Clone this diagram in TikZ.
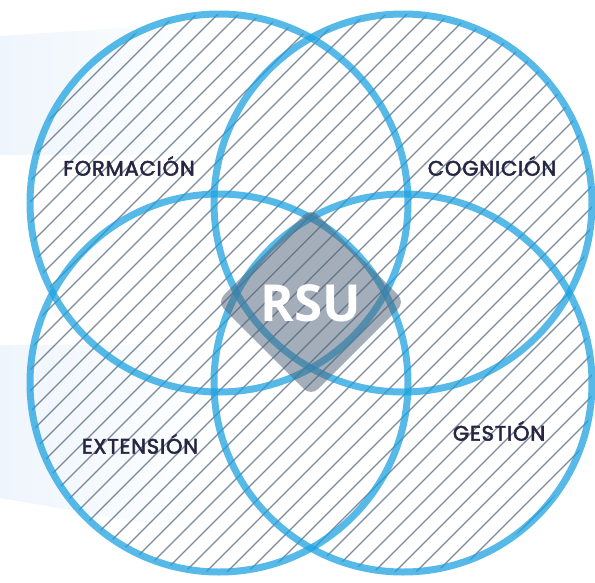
\documentclass[tikz,border=0pt]{standalone}
\usepackage{fontspec}
\newfontfamily\lblfont{Poppins}[FakeBold=2.5, LetterSpace=4]
\newfontfamily\rsufont{Open Sans}
\usetikzlibrary{positioning}

\definecolor{ringblue}{RGB}{30,162,224}
\definecolor{hatchgray}{RGB}{90,108,126}
\definecolor{slate}{RGB}{80,100,122}
\definecolor{labelnavy}{RGB}{38,38,66}
\definecolor{bandblue}{RGB}{238,245,252}

\begin{document}
\begin{tikzpicture}[
  x=1pt, y=-1pt,
  ring/.style={draw=ringblue, line width=7pt, draw opacity=0.75},
  hatch/.style={draw=hatchgray, line width=1.1pt, opacity=0.8},
  area/.style={font=\lblfont\fontsize{21}{21}\selectfont, text=labelnavy, inner sep=0pt},
  core/.style={fill=slate, fill opacity=0.52, rounded corners=10pt, minimum size=133pt, inner sep=0pt}
]
\useasboundingbox (0,0) rectangle (595,582);

% soft bands on the left
\shade[left color=bandblue, right color=white] (0,36) -- (215,22) -- (215,155) -- (0,155) -- cycle;
\shade[left color=bandblue, right color=white] (0,345) -- (215,345) -- (215,535) -- (0,498) -- cycle;

% centres of the four rings
\coordinate (cf) at (219,203);
\coordinate (cc) at (403,203);
\coordinate (ce) at (219,383);
\coordinate (cg) at (403,383);

% hatching inside the rings
\begin{scope}
  \clip (cf) circle (189) (cc) circle (189) (ce) circle (189) (cg) circle (189);
  \foreach \c in {-620,-599,...,620}
    \draw[hatch] (\c,600) -- ++(620,-620);
\end{scope}

% rings
\foreach \p in {cf,cc,ce,cg}
  \draw[ring] (\p) circle (189);

% centre
\node[core, rotate=45] (diamond) at (311,302) {};
\node[font=\rsufont\bfseries\fontsize{51}{51}\selectfont, text=white, inner sep=0pt] (rsu) at (311,303) {RSU};

\node[area] (formacion) at (129,166) {FORMACIÓN};
\node[area] (cognicion) at (492,166) {COGNICIÓN};
\node[area] (extension) at (140,444) {EXTENSIÓN};
\node[area] (gestion)   at (499,431) {GESTIÓN};

\end{tikzpicture}
\end{document}
